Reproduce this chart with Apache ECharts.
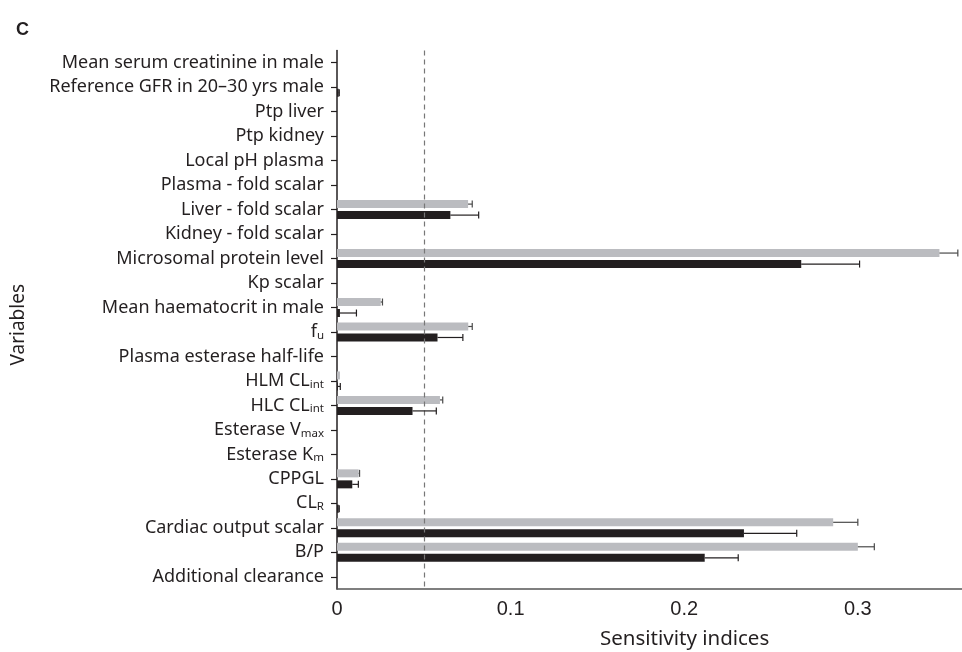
<!DOCTYPE html>
<html>
<head>
<meta charset="utf-8">
<script src="https://cdn.jsdelivr.net/npm/echarts@6/dist/echarts.min.js"></script>
<style>html,body{margin:0;padding:0;background:#fff}#c{width:962px;height:652px}</style>
</head>
<body>
<div id="c"></div>
<script>
// Categories top to bottom ("_" marks a subscript)
const categories = ["Mean serum creatinine in male","Reference GFR in 20\u201330 yrs male","Ptp liver","Ptp kidney","Local pH plasma","Plasma - fold scalar","Liver - fold scalar","Kidney - fold scalar","Microsomal protein level","Kp scalar","Mean haematocrit in male","f_u","Plasma esterase half-life","HLM CL_int","HLC CL_int","Esterase V_max","Esterase K_m","CPPGL","CL_R","Cardiac output scalar","B/P","Additional clearance"];
const grayValues  = [0,0,0,0,0,0,0.0755,0,0.347,0,0.0252,0.0756,0,0.0017,0.0593,0,0,0.0125,0,0.2858,0.300,0];
const grayErrors  = [0,0,0,0,0,0,0.0024,0,0.0106,0,0.0010,0.0023,0,0.0000,0.0016,0,0,0.0005,0,0.0142,0.0095,0];
const blackValues = [0,0.0010,0,0,0,0,0.0653,0,0.2674,0,0.0017,0.0579,0,0.0005,0.0435,0,0,0.0088,0.0010,0.2344,0.2118,0];
const blackErrors = [0,0.0003,0,0,0,0,0.0163,0,0.0336,0,0.0095,0.0146,0,0.0014,0.0137,0,0,0.0035,0.0003,0.0304,0.0193,0];
const xTicks = [0, 0.1, 0.2, 0.3];
const threshold = 0.05;

const FONT = "Noto Sans";
const chart = echarts.init(document.getElementById('c'), null, {renderer:'canvas'});

function errData(vals, errs){
  const out = [];
  vals.forEach((v,i)=>{ if (v > 0 && errs[i] > 0) out.push([i, v, v + errs[i]]); });
  return out;
}
function errSeries(vals, errs, offset, color){
  return {
    type:'custom', z:5, silent:true,
    data: errData(vals, errs),
    encode:{ y:0, x:[1,2] },
    renderItem(params, api){
      const c = api.value(0);
      const p1 = api.coord([api.value(1), c]);
      const p2 = api.coord([api.value(2), c]);
      const y = p1[1] + offset;
      const st = {stroke: color, lineWidth: 1.2};
      return {type:'group', children:[
        {type:'line', shape:{x1:p1[0], y1:y, x2:p2[0], y2:y}, style:st},
        {type:'line', shape:{x1:p2[0], y1:y-3.5, x2:p2[0], y2:y+3.5}, style:st}
      ]};
    }
  };
}

const labelFmt = (name) => {
  const i = name.indexOf('_');
  if (i < 0) return name;
  return name.slice(0,i) + '{sub|' + name.slice(i+1) + '}';
};

chart.setOption({
  animation:false,
  backgroundColor:'#fff',
  title:{ text:'C', left:11, top:16, textStyle:{fontFamily:'Liberation Sans', fontWeight:'bold', fontSize:18, color:'#231f20'} },
  graphic:[{ type:'text', left:684 - 84, top:629,
    style:{ text:'Sensitivity indices', fontFamily:FONT, fontSize:20.5, fill:'#231f20' } }],
  grid:{ left:337, right:0, top:50.5, bottom:63, containLabel:false },
  xAxis:{
    type:'value', min:0, max:0.36, interval:0.1,
    axisLine:{show:true, lineStyle:{color:'#555', width:1.5}},
    axisTick:{show:false},
    splitLine:{show:false},
    axisLabel:{fontFamily:'Liberation Sans', fontSize:20, color:'#231f20', margin:10, showMaxLabel:false,
      formatter:(v)=> xTicks.indexOf(+v.toFixed(2))>=0 ? String(+v.toFixed(2)) : ''}
  },
  yAxis:{
    type:'category', data:categories, inverse:true,
    name:'Variables', nameLocation:'middle', nameGap:309, nameRotate:90,
    nameTextStyle:{fontFamily:FONT, fontSize:19, color:'#231f20', padding:[0,10,0,0]},
    axisLine:{show:true, lineStyle:{color:'#231f20', width:1.5}},
    axisTick:{show:true, alignWithLabel:true, length:6, lineStyle:{color:'#231f20', width:1.2}},
    axisLabel:{
      fontFamily:FONT, fontSize:18, color:'#231f20', margin:13,
      formatter: labelFmt,
      rich:{ sub:{fontFamily:FONT, fontSize:11.5, color:'#231f20', verticalAlign:'bottom', padding:[7,0,0,0]} }
    },
    splitLine:{show:false}
  },
  series:[
    { name:'gray', type:'bar', data:grayValues, barWidth:8, barGap:'37.5%',
      itemStyle:{color:'#bbbcc0'}, z:2,
      markLine:{ silent:true, symbol:['none','none'], label:{show:false},
        lineStyle:{color:'#777', type:[5,4], width:1.2}, data:[{xAxis:threshold}] } },
    { name:'black', type:'bar', data:blackValues, barWidth:8,
      itemStyle:{color:'#231f20'}, z:2 },
    errSeries(grayValues, grayErrors, -5.5, '#4a4a4a'),
    errSeries(blackValues, blackErrors, 5.5, '#231f20')
  ]
});
</script>
</body>
</html>
